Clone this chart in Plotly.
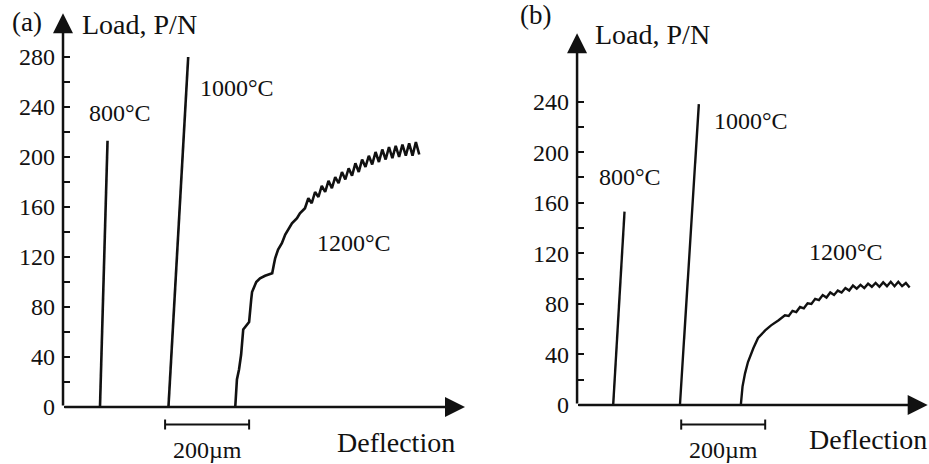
import plotly.graph_objects as go

# deflection in micrometres (offset from the load axis), load in N
a_800_x = [88, 106]
a_800_y = [0, 213]
a_1000_x = [251, 298]
a_1000_y = [0, 280]
a_1200_x = [410, 412, 414, 419, 424, 429, 438, 443, 448, 450, 460, 469, 481, 498,
            502, 505, 512, 521, 529, 536, 545, 557, 564,
            576, 584, 592, 600, 608, 616, 624, 632, 640, 648, 656, 664, 672, 680,
            688, 696, 704, 712, 720, 728, 736, 744, 752, 760, 768, 776, 784, 792,
            800, 808, 816, 824, 832, 840, 848]
a_1200_y = [0, 10, 22, 30, 42, 62, 66, 68, 86, 92, 100, 103, 105, 107,
            114, 119, 126, 131, 138, 142, 147, 151, 155,
            159, 167, 163, 172, 168, 177, 172, 181, 175, 184, 179, 188, 182, 191,
            185, 195, 188, 198, 192, 201, 194, 204, 196, 206, 198, 208, 199, 209,
            200, 210, 201, 211, 201, 212, 202]

b_800_x = [86, 113]
b_800_y = [0, 153]
b_1000_x = [245, 290]
b_1000_y = [0, 238]
b_1200_x = [390, 394, 400, 407, 420, 431, 448, 462, 480,
            495, 504, 513, 522, 531, 540, 549, 558, 567, 576, 585, 594, 603, 612,
            621, 630, 639, 648, 657, 666, 675, 684, 693, 702, 711, 720, 729, 738,
            747, 756, 765, 774, 783, 792]
b_1200_y = [0, 14.5, 25, 34, 45, 53, 59, 63, 67,
            71, 70.5, 74.5, 73.5, 77.5, 76.5, 80.5, 80, 84, 83, 87, 85, 89, 87,
            90.5, 89, 92.5, 90.5, 94.5, 92, 95, 92.5, 96, 93.5, 96.5, 93.5, 97, 94,
            97.5, 94, 97.5, 94, 96.5, 93]

a_ticks = list(range(0, 300, 20))
b_ticks = list(range(0, 260, 20))
temps = ["800°C", "1000°C", "1200°C"]

FONT = "Liberation Serif, Times New Roman, serif"
INK = "#111111"

fig = go.Figure()

for xs, ys in [(a_800_x, a_800_y), (a_1000_x, a_1000_y), (a_1200_x, a_1200_y)]:
    fig.add_trace(go.Scatter(x=xs, y=ys, mode="lines", xaxis="x", yaxis="y",
                             line=dict(color=INK, width=2.6), showlegend=False,
                             hoverinfo="skip"))
for xs, ys in [(b_800_x, b_800_y), (b_1000_x, b_1000_y), (b_1200_x, b_1200_y)]:
    fig.add_trace(go.Scatter(x=xs, y=ys, mode="lines", xaxis="x2", yaxis="y2",
                             line=dict(color=INK, width=2.4), showlegend=False,
                             hoverinfo="skip"))


def tick_text(vals):
    return [str(v) if v % 40 == 0 else "" for v in vals]


yax = dict(showgrid=False, zeroline=False, showline=False, anchor="free",
           ticks="inside", ticklen=6, tickwidth=2, tickcolor=INK,
           ticklabelstandoff=8, tickfont=dict(family=FONT, size=24, color=INK))

fig.update_layout(
    width=929, height=464,
    margin=dict(l=0, r=0, t=0, b=0),
    font=dict(family=FONT, color=INK),
    paper_bgcolor="white", plot_bgcolor="white",
    xaxis=dict(domain=[0, 0.506], range=[-150, 969], visible=False),
    yaxis=dict(domain=[0, 1], range=[-45.6, 325.6], position=63 / 929,
               tickvals=a_ticks, ticktext=tick_text(a_ticks), **yax),
    xaxis2=dict(domain=[0.506, 1], range=[-254.8, 838.1], visible=False),
    yaxis2=dict(domain=[0, 1], range=[-46.7, 320.4], position=577 / 929,
                tickvals=b_ticks, ticktext=tick_text(b_ticks), **yax),
)


def axis_arrow(xr, yr, x, y, ax, ay):
    fig.add_annotation(x=x, y=y, ax=ax, ay=ay, xref=xr, yref=yr, axref=xr, ayref=yr,
                       text="", showarrow=True, arrowhead=2, arrowsize=1.6,
                       arrowwidth=2.5, arrowcolor=INK)


def label(xr, yr, x, y, text, size=24, xanchor="center"):
    fig.add_annotation(x=x, y=y, xref=xr, yref=yr, text=text, showarrow=False,
                       xanchor=xanchor, yanchor="middle",
                       font=dict(family=FONT, size=size, color=INK))


def scale_bar(xr, yr, x0, x1, y, h):
    fig.add_shape(type="line", xref=xr, yref=yr, x0=x0, x1=x1, y0=y, y1=y,
                  line=dict(color=INK, width=2))
    for xe in (x0, x1):
        fig.add_shape(type="line", xref=xr, yref=yr, x0=xe, x1=xe, y0=y - h, y1=y + h,
                      line=dict(color=INK, width=2))


# panel (a)
axis_arrow("x", "y", 0, 315, 0, 0)
axis_arrow("x", "y", 957, 0, 0, 0)
label("x", "y", -86, 308, "(a)", 27)
label("x", "y", 40, 306, "Load, P/N", 28, "left")
label("x", "y", 136, 235, temps[0])
label("x", "y", 415, 255, temps[1])
label("x", "y", 693, 131, temps[2])
scale_bar("x", "y", 243, 443, -14, 4)
label("x", "y", 345, -34.5, "200µm")
label("x", "y", 938, -28, "Deflection", 28, "right")

# panel (b)
axis_arrow("x2", "y2", 0, 294, 0, 0)
axis_arrow("x2", "y2", 835, 0, 0, 0)
label("x2", "y2", -98, 308.5, "(b)", 27)
label("x2", "y2", 38, 293, "Load, P/N", 28, "left")
label("x2", "y2", 126, 180, temps[0])
label("x2", "y2", 414, 225, temps[1])
label("x2", "y2", 640, 121, temps[2])
scale_bar("x2", "y2", 248, 448, -15.5, 4)
label("x2", "y2", 348, -35.5, "200µm")
label("x2", "y2", 837, -27, "Deflection", 28, "right")

fig.write_html("out.html", config={"displayModeBar": False},
               post_script="document.body.style.margin='0px';")
